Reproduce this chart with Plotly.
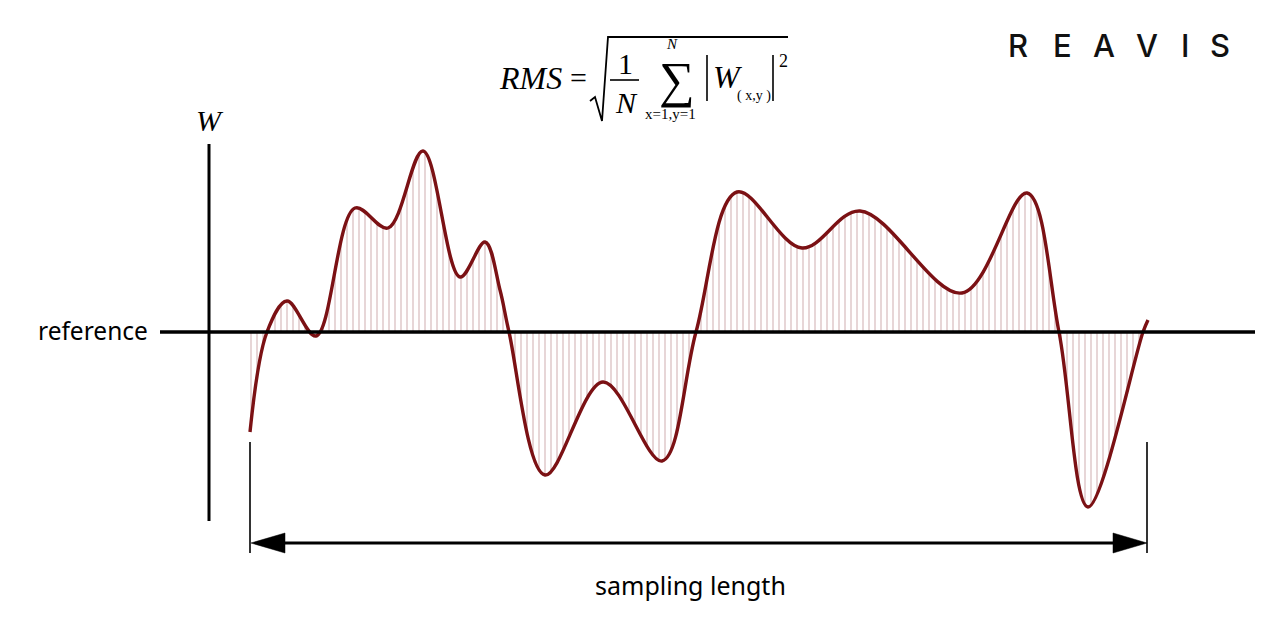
import plotly.graph_objects as go

# ---- data: surface profile ----
# position along the sampling length (0 = start of sampling length)
position = [0, 17, 37, 66, 105, 138, 173, 210, 235, 250, 259, 295, 353, 412, 446,
            487, 552, 610, 712, 777, 809, 838, 893, 898]
# profile height W relative to the reference line
height = [-100, 0, 31, -4, 124, 104, 181, 55, 90, 42, 0, -143, -50, -129, 0,
          140, 84, 121, 39, 139, 0, -175, 0, 12]

x_label = "sampling length"
y_label = "W"
ref_label = "reference"
logo_letters = ["R", "E", "A", "V", "I", "S"]

# ---- helpers to place layout items (picture pixel -> axis units) ----
def X(px):
    return px - 250

def Y(py):
    return 332 - py

OFF = 8  # page body margin of the browser

CURVE = "#7b1114"
HATCH = "#c09294"

fig = go.Figure()
fig.add_trace(go.Scatter(
    x=position, y=height, mode="lines",
    line=dict(shape="spline", smoothing=1.0, color=CURVE, width=3.4),
    fill="tozeroy", fillcolor="rgba(0,0,0,0)",
    fillpattern=dict(shape="|", fgcolor=HATCH, bgcolor="rgba(0,0,0,0)", size=6, solidity=0.25),
    hoverinfo="skip",
))

shapes = []
def line(x0, y0, x1, y1, w, color="black"):
    shapes.append(dict(type="line", xref="x", yref="y", x0=X(x0), y0=Y(y0), x1=X(x1), y1=Y(y1),
                       line=dict(color=color, width=w), layer="above"))

def path(points, w=0, fill=None, close=False):
    d = "M " + " L ".join(f"{X(a)},{Y(b)}" for a, b in points) + (" Z" if close else "")
    s = dict(type="path", xref="x", yref="y", path=d, layer="above",
             line=dict(color="black", width=w))
    if fill:
        s["fillcolor"] = fill
    shapes.append(s)

# axes-like elements
line(160, 332, 1255, 332, 3.5)          # reference line
line(209, 144, 209, 521, 3)             # W axis
# sampling length markers
line(250, 442, 250, 553, 1.6)
line(1147, 442, 1147, 553, 1.6)
line(280, 543, 1118, 543, 3)
path([(251, 543), (285, 533), (285, 553)], w=0.5, fill="black", close=True)
path([(1147, 543), (1113, 533), (1113, 553)], w=0.5, fill="black", close=True)

# formula decorations: radical, fraction bar, absolute bars
path([(590, 101), (595, 97), (602, 121), (608, 37), (788, 37)], w=1.8)
line(610, 80, 639, 80, 1.6)
line(707, 55, 707, 101, 1.6)
line(773, 55, 773, 101, 1.6)

annotations = []
def text(t, px, py, size, family="Liberation Serif", anchor="center", italic=False,
         color="black", weight=None):
    f = dict(family=family, size=size, color=color)
    if weight:
        f["weight"] = weight
    annotations.append(dict(
        text=(f"<i>{t}</i>" if italic else t), x=X(px), y=Y(py), xref="x", yref="y",
        xanchor=anchor, yanchor="middle", showarrow=False, font=f))

SERIF = "Liberation Serif"
text("RMS", 530, 78, 32, SERIF, italic=True)
text("=", 578, 77, 30, SERIF)
text("1", 625, 63, 30, SERIF)
text("N", 626, 102, 30, SERIF, italic=True)
text("N", 672, 44, 15, SERIF, italic=True)
text("∑", 677, 80, 50, SERIF)
text("x=1,y=1", 670, 114, 15, SERIF)
text("W", 728, 77, 32, SERIF, italic=True)
text("( x,y )", 754, 96, 14, SERIF)
text("2", 783, 61, 18, SERIF)

text(y_label, 210, 120, 30, SERIF, italic=True)
text(ref_label, 150, 330, 24.5, "Noto Sans", anchor="right")
text(x_label, 690, 585, 25, "Noto Sans")

logo_x = [1018, 1062, 1104, 1147, 1185, 1220]
for ch, lx in zip(logo_letters, logo_x):
    text(ch, lx, 45, 31, "Inter", color="#111111", weight=500)

fig.update_layout(
    width=1280, height=636,
    margin=dict(l=0, r=0, t=0, b=0),
    paper_bgcolor="white", plot_bgcolor="white",
    showlegend=False,
    xaxis=dict(range=[X(OFF), X(1280 + OFF)], visible=False, fixedrange=True),
    yaxis=dict(range=[Y(636 + OFF), Y(OFF)], visible=False, fixedrange=True),
    shapes=shapes, annotations=annotations,
)

fig.write_html("out.html")
